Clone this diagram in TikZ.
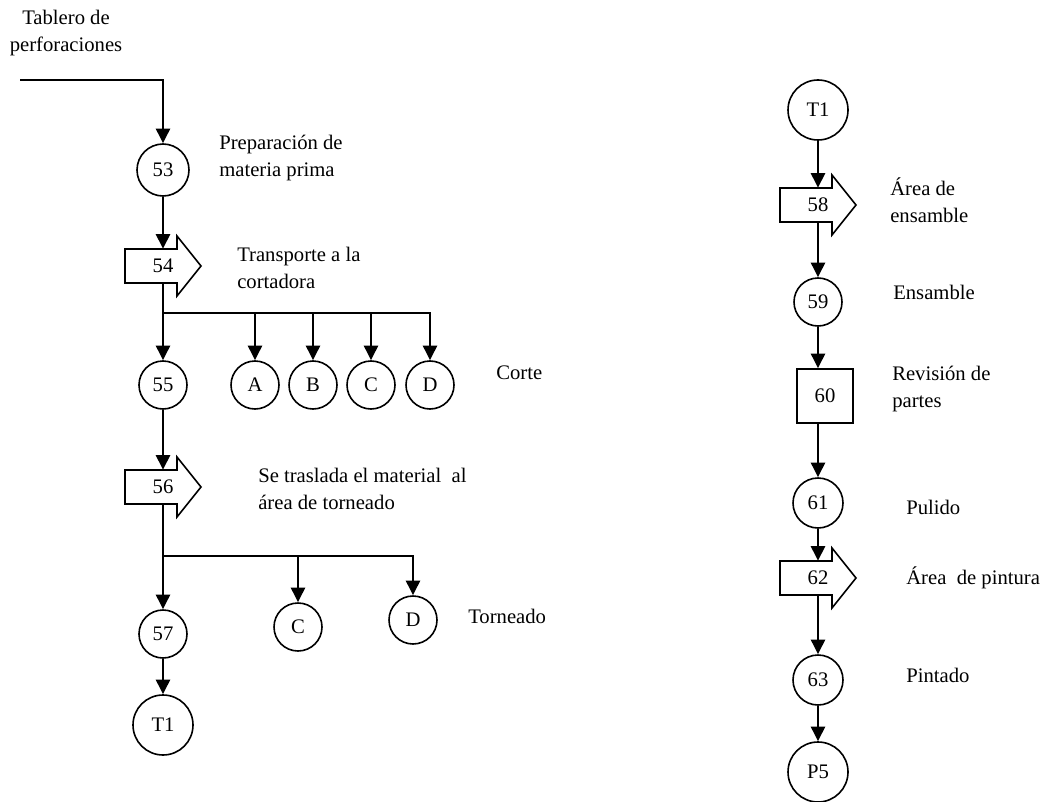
\documentclass[tikz,border=0pt]{standalone}
\usepackage{fontspec}
\setmainfont{Liberation Serif}
\usetikzlibrary{arrows.meta}

% Transport symbol: a block arrow pointing right, with a named body node
% #1 name, #2 x, #3 y (centre of the whole symbol), #4 label
\newcommand\flowarrowshape[4]{%
  \node[flowbody] (#1) at (#2,#3) {#4};
  \draw[shapeline] (#2-38,#3-17) -- (#2+14,#3-17) -- (#2+14,#3-30)
    -- (#2+38,#3) -- (#2+14,#3+30) -- (#2+14,#3+17) -- (#2-38,#3+17) -- cycle;
}

\begin{document}
\begin{tikzpicture}[x=0.75pt,y=-0.75pt,
  every node/.style={font=\fontsize{15.5}{20.5}\selectfont, inner sep=0pt},
  opcircle/.style={circle, draw, line width=1.2pt, minimum size=#1},
  opcircle/.default=36pt,
  inspbox/.style={draw, line width=1.2pt, minimum width=42pt, minimum height=40.5pt},
  flowbody/.style={minimum width=57pt, minimum height=25.5pt},
  shapeline/.style={line width=1.2pt, line join=miter},
  connline/.style={line width=2.1pt},
  connarrow/.style={connline, -{Triangle[width=10.5pt,length=11pt]}},
  notetext/.style={anchor=west, align=left},
]
\useasboundingbox (0,0) rectangle (1048,802);

% ---------- left column ----------
\node[align=center] (src) at (66,33) {Tablero de\\perforaciones};
\coordinate (start) at (20,80);

\node[opcircle=39pt] (n53) at (163,170) {53};
\node[notetext] (t53) at (219,158) {Preparación de\\materia prima};

\flowarrowshape{n54}{163}{266}{54}
\node[notetext] (t54) at (237,268) {Transporte a la\\cortadora};

\coordinate (j1) at (163,313);
\node[opcircle] (n55) at (163,385) {55};
\node[opcircle] (nA) at (255,385) {A};
\node[opcircle] (nB) at (313,385) {B};
\node[opcircle] (nC) at (371,385) {C};
\node[opcircle] (nD) at (430,385) {D};
\node[notetext] (t55) at (496,373) {Corte};

\flowarrowshape{n56}{163}{487}{56}
\node[notetext] (t56) at (258,489) {Se traslada el material~ al\\área de torneado};

\coordinate (j2) at (163,556);
\node[opcircle] (n57) at (163,634) {57};
\node[opcircle] (nC2) at (298,627) {C};
\node[opcircle] (nD2) at (413,620) {D};
\node[notetext] (t57) at (468,616) {Torneado};

\node[opcircle=45pt] (t1a) at (163,725) {T1};

\draw[connarrow] (start) -| (n53.north);
\draw[connarrow] (n53) -- (n54.north);
\draw[connline] (n54.south) -- (j1);
\draw[connarrow] (j1) -- (n55);
\foreach \k in {nA,nB,nC,nD} \draw[connarrow] (j1) -| (\k);
\draw[connarrow] (n55) -- (n56.north);
\draw[connline] (n56.south) -- (j2);
\draw[connarrow] (j2) -- (n57);
\draw[connarrow] (j2) -| (nC2);
\draw[connarrow] (j2) -| (nD2);
\draw[connarrow] (n57) -- (t1a);

% ---------- right column ----------
\node[opcircle=45pt] (t1b) at (818,110) {T1};
\flowarrowshape{n58}{818}{205}{58}
\node[notetext] (t58) at (890,200) {Área de\\ensamble};
\node[opcircle] (n59) at (818,302) {59};
\node[notetext] (t59) at (893,292) {Ensamble};
\node[inspbox] (n60) at (825,396) {60};
\node[notetext] (t60) at (892,389) {Revisión de\\partes};
\node[opcircle=37.5pt] (n61) at (818,503) {61};
\node[notetext] (t61) at (906,507) {Pulido};
\flowarrowshape{n62}{818}{578}{62}
\node[notetext] (t62) at (906,578) {Área~ de pintura};
\node[opcircle=37.5pt] (n63) at (818,680) {63};
\node[notetext] (t63) at (906,675) {Pintado};
\node[opcircle=45pt] (p5) at (818,772) {P5};

\draw[connarrow] (t1b) -- (n58.north);
\draw[connarrow] (n58.south) -- (n59);
\draw[connarrow] (n59) -- (n59 |- n60.north);
\draw[connarrow] (n60.south -| n61) -- (n61);
\draw[connarrow] (n61) -- (n62.north);
\draw[connarrow] (n62.south) -- (n63);
\draw[connarrow] (n63) -- (p5);
\end{tikzpicture}
\end{document}
